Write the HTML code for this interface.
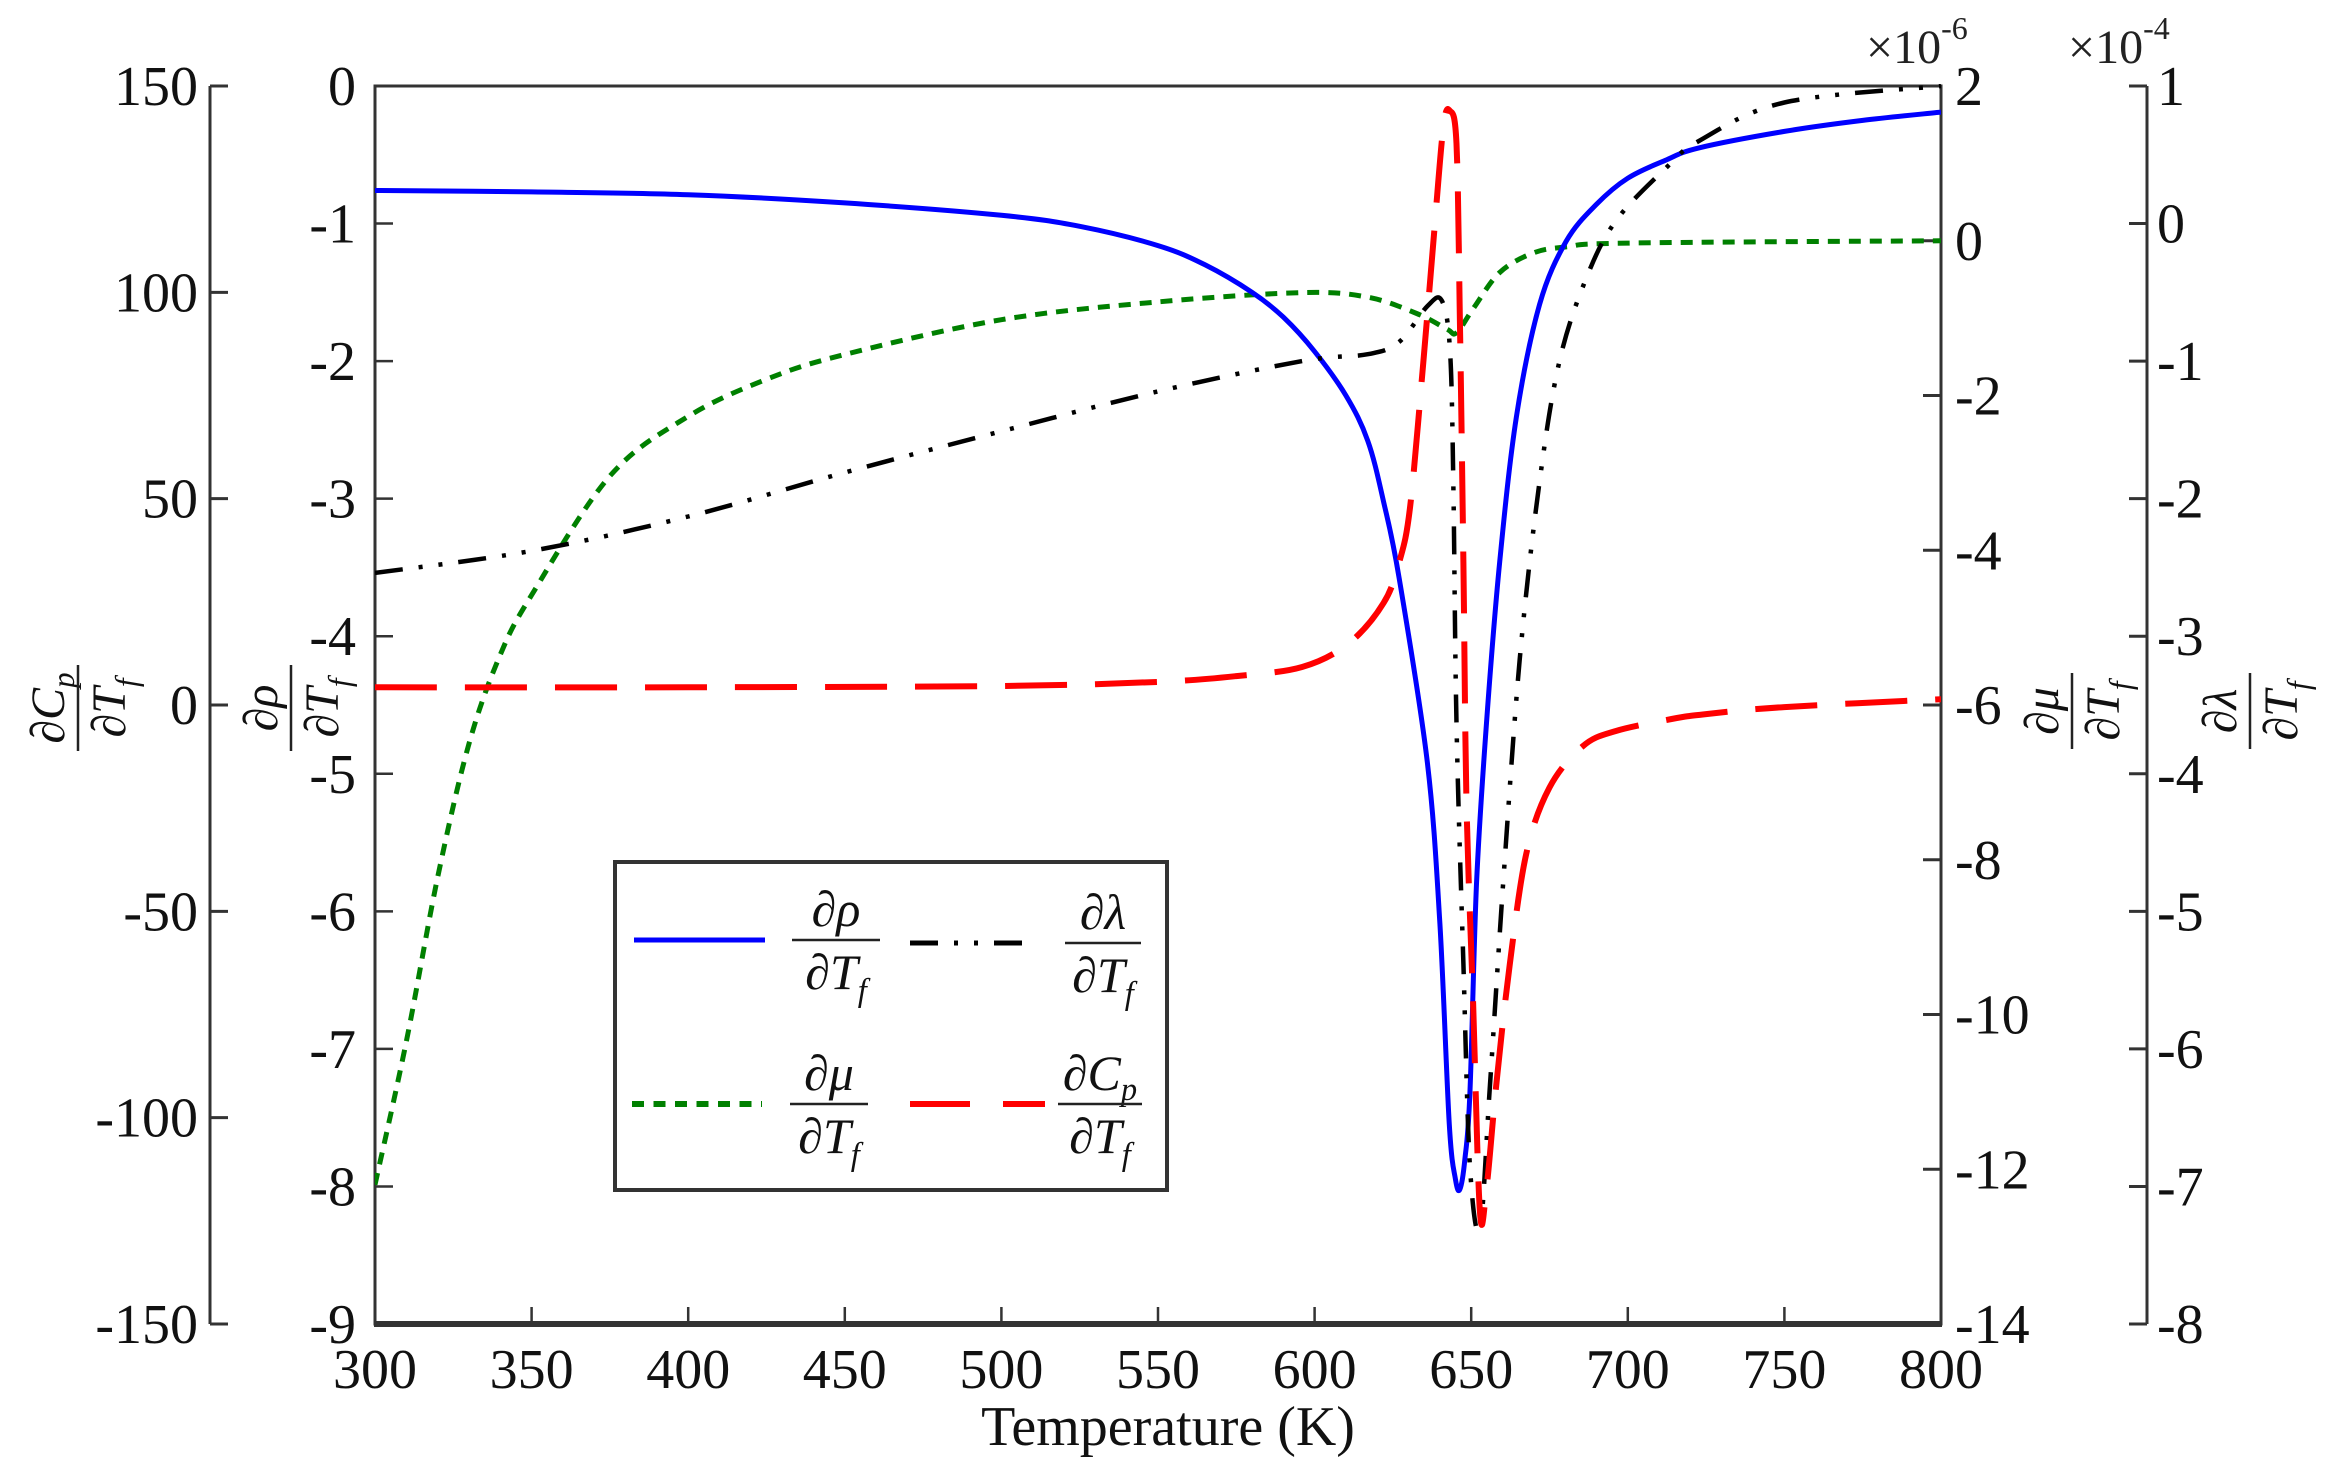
<!DOCTYPE html>
<html><head><meta charset="utf-8"><style>
html,body{margin:0;padding:0;background:#fff;}
svg{display:block;font-family:"Liberation Serif",serif;}
</style></head><body>
<svg id="chart" width="2333" height="1475" viewBox="0 0 2333 1475" xmlns="http://www.w3.org/2000/svg">
<g id="axes"></g>
<g id="series"></g>
<g id="labels"></g>
</svg>
<script>
// ---- data ----
const xTicks = [300,350,400,450,500,550,600,650,700,750,800];
const rhoTicks = [0,-1,-2,-3,-4,-5,-6,-7,-8,-9];
const cpTicks = [150,100,50,0,-50,-100,-150];
const muTicks = [2,0,-2,-4,-6,-8,-10,-12,-14];
const lamTicks = [1,0,-1,-2,-3,-4,-5,-6,-7,-8];

const rhoT = [300,350,400,450,500,525,550,565,580,590,600,610,617,622,627,636,640,643,645,646.4,648,649.6,651.7,654.9,659.1,664.4,671.8,680.3,690,700,712,722.7,750,775,800];
const rhoV = [-0.76,-0.77,-0.79,-0.85,-0.94,-1.02,-1.16,-1.30,-1.50,-1.68,-1.93,-2.25,-2.58,-3.02,-3.58,-4.92,-6.09,-7.55,-7.95,-8.02,-7.8,-7.32,-5.80,-4.63,-3.46,-2.41,-1.59,-1.13,-0.86,-0.67,-0.54,-0.45,-0.33,-0.25,-0.19];

const cpT = [300,400,500,550,575,596,611,622,627,630.5,634.7,637.9,641.1,643.2,645.3,646.4,647.5,648.5,650.6,652.8,654.9,658,662.3,667.6,675,685.6,696.2,714,725,750,800];
const cpV = [4.3,4.3,4.6,5.6,7.0,9.2,15,24.7,34.6,48,83,112,140,144,136,93,34.6,-23.7,-72,-123,-117,-92,-63,-36,-20,-10,-6.3,-3.4,-2.2,-0.5,1.4];

const muT = [300,310,320,330,340,350,375,400,425,450,500,550,596,617,632.6,642.2,645.3,650.6,659.1,669.7,680.3,700,800];
const muV = [-12.2,-10.35,-8.23,-6.5,-5.35,-4.58,-3.04,-2.27,-1.79,-1.47,-1.02,-0.79,-0.67,-0.73,-0.94,-1.14,-1.19,-0.88,-0.41,-0.16,-0.08,-0.03,0];

const lamT = [300,350,400,450,500,550,596,617,627,636,640.6,643.2,644.3,645.3,647.5,649.6,652.8,656,660.2,665.5,671.8,678.2,686.7,696.2,712,722.7,750,800];
const lamV = [-2.54,-2.38,-2.13,-1.81,-1.51,-1.22,-1.0,-0.95,-0.86,-0.60,-0.56,-0.91,-1.88,-3.63,-5.38,-6.85,-7.31,-6.26,-4.80,-3.17,-1.88,-1.0,-0.40,0.02,0.40,0.60,0.88,1.0];

// ---- geometry ----
const L=375,R=1941,T=86,B=1324;
const NS="http://www.w3.org/2000/svg";
const xS=v=>L+(v-300)/(800-300)*(R-L);
const yRho=v=>T+(0-v)/9*(B-T);
const yCp=v=>T+(150-v)/300*(B-T);
const yMu=v=>T+(2-v)/16*(B-T);
const yLam=v=>T+(1-v)/9*(B-T);

function mk(tag,attrs,parent){const e=document.createElementNS(NS,tag);for(const k in attrs)e.setAttribute(k,attrs[k]);parent.appendChild(e);return e;}
const axes=document.getElementById('axes'),series=document.getElementById('series'),labels=document.getElementById('labels');
const AX='#333';

let e;
e=mk('rect',{x:L,y:T,width:R-L,height:B-T,fill:'none',stroke:AX,'stroke-width':3},axes);


e=mk('line',{x1:L-1,x2:R+1,y1:B,y2:B,stroke:AX,'stroke-width':6},axes);



xTicks.forEach(v=>{
  const x=xS(v);
  let t=mk('line',{x1:x,x2:x,y1:B,y2:B-17,stroke:AX,'stroke-width':2.5},axes);
  
  
  let s=mk('text',{x:x,y:1388,'font-size':56,'text-anchor':'middle',fill:'#111'},labels);
  s.textContent=v;
  
  
});
e=mk('text',{x:1168,y:1445,'font-size':56,'text-anchor':'middle',fill:'#111'},labels);
e.textContent='Temperature (K)';



rhoTicks.forEach(v=>{
  const y=yRho(v);
  let t=mk('line',{x1:L,x2:L+18,y1:y,y2:y,stroke:AX,'stroke-width':2.5},axes);
  
  
  let s=mk('text',{x:356,y:y+19,'font-size':56,'text-anchor':'end',fill:'#111'},labels);
  s.textContent=v;
  
  
});

const CPX=210;
e=mk('line',{x1:CPX,x2:CPX,y1:T,y2:B,stroke:AX,'stroke-width':3},axes);


cpTicks.forEach(v=>{
  const y=yCp(v);
  let t=mk('line',{x1:CPX,x2:CPX+18,y1:y,y2:y,stroke:AX,'stroke-width':3},axes);
  
  
  let s=mk('text',{x:198,y:y+19,'font-size':56,'text-anchor':'end',fill:'#111'},labels);
  s.textContent=v;
  
  
});

muTicks.forEach(v=>{
  const y=yMu(v);
  let t=mk('line',{x1:R,x2:R-18,y1:y,y2:y,stroke:AX,'stroke-width':3},axes);
  
  
  let s=mk('text',{x:1955,y:y+19,'font-size':56,'text-anchor':'start',fill:'#111'},labels);
  s.textContent=v;
  
  
});

const LX=2147;
e=mk('line',{x1:LX,x2:LX,y1:T,y2:B,stroke:AX,'stroke-width':3},axes);


lamTicks.forEach(v=>{
  const y=yLam(v);
  let t=mk('line',{x1:LX,x2:LX-18,y1:y,y2:y,stroke:AX,'stroke-width':3},axes);
  
  
  let s=mk('text',{x:2157,y:y+19,'font-size':56,'text-anchor':'start',fill:'#111'},labels);
  s.textContent=v;
  
  
});

function expo(x,y,p,name){
  const t=mk('text',{x:x,y:y,'font-size':48,fill:'#222'},labels);
  
  
  const a=mk('tspan',{},t);a.textContent='×10';
  const b=mk('tspan',{dy:-24,'font-size':32},t);b.textContent=p;
}
expo(1866,63,'-6','mu-exponent-label');
expo(2068,63,'-4','lambda-exponent-label');

function frac(cx,cy,num,sub,rot,name,w,fs){
  const g=mk('g',{transform:`translate(${cx},${cy})`+(rot?' rotate(-90)':''),'font-style':'italic','font-size':fs,fill:'#111'},labels);
  
  
  const n=mk('text',{x:0,y:-14,'text-anchor':'middle'},g);
  const n1=mk('tspan',{},n);n1.textContent=num[0];
  if(num[1]){const n2=mk('tspan',{dy:10,'font-size':fs*0.65},n);n2.textContent=num[1];}
  mk('line',{x1:-w/2,x2:w/2,y1:0,y2:0,stroke:'#222','stroke-width':2.5},g);
  const d=mk('text',{x:0,y:fs*0.98,'text-anchor':'middle'},g);
  const d1=mk('tspan',{},d);d1.textContent='∂T';
  const d2=mk('tspan',{dy:12,'font-size':fs*0.65},d);d2.textContent='f';
}
frac(78,708,['∂C','p'],'f',true,'cp-axis-title',86,48);
frac(291,708,['∂ρ'],'f',true,'rho-axis-title',86,48);
frac(2072,711,['∂μ'],'f',true,'mu-axis-title',76,48);
frac(2250,711,['∂λ'],'f',true,'lambda-axis-title',76,48);

function pathD(xs,ys){
  const P=xs.map((x,i)=>[x,ys[i]]);
  let d=`M${P[0][0].toFixed(1)},${P[0][1].toFixed(1)}`;
  for(let i=0;i<P.length-1;i++){
    const p0=P[Math.max(0,i-1)],p1=P[i],p2=P[i+1],p3=P[Math.min(P.length-1,i+2)];
    const k=1/6;
    const c1=[p1[0]+(p2[0]-p0[0])*k,p1[1]+(p2[1]-p0[1])*k];
    const c2=[p2[0]-(p3[0]-p1[0])*k,p2[1]-(p3[1]-p1[1])*k];
    d+=` C${c1[0].toFixed(1)},${c1[1].toFixed(1)} ${c2[0].toFixed(1)},${c2[1].toFixed(1)} ${p2[0].toFixed(1)},${p2[1].toFixed(1)}`;
  }
  return d;
}
const clip=mk('clipPath',{id:'pc'},document.getElementById('chart'));
mk('rect',{x:L,y:T-2,width:R-L,height:B-T+4},clip);

function drawSeries(tArr,vArr,yf,stroke,w,dash,name){
  const p=mk('path',{d:pathD(tArr.map(xS),vArr.map(yf)),fill:'none',stroke:stroke,'stroke-width':w,'stroke-dasharray':dash,'stroke-linejoin':'round','clip-path':'url(#pc)'},series);
  
  
}
drawSeries(muT,muV,yMu,'#008000',5,'12 9','mu-series-line');
drawSeries(rhoT,rhoV,yRho,'#0000ff',5,'none','rho-series-line');
drawSeries(lamT,lamV,yLam,'#000','4.5','28 16 4 16 4 16','lambda-series-line');
drawSeries(cpT,cpV,yCp,'#ff0000',6,'62 28','cp-series-line');

const lg=mk('g',{},labels);


e=mk('rect',{x:615,y:862,width:552,height:328,fill:'#fff',stroke:'#333','stroke-width':4},lg);


function legLine(x1,x2,y,stroke,w,dash,name){
  const l=mk('line',{x1:x1,x2:x2,y1:y,y2:y,stroke:stroke,'stroke-width':w,'stroke-dasharray':dash},lg);
  
  
}
legLine(634,765,940,'#0000ff',5,'none','legend-rho-line');
legLine(910,1031,943,'#000',5,'28 16 4 16 4 16','legend-lambda-line');
legLine(632,762,1104,'#008000',6,'12 9.5','legend-mu-line');
legLine(910,1045,1104,'#ff0000',6,'60 33','legend-cp-line');
frac(836,940,['∂ρ'],'f',false,'legend-rho-label',88,50);
frac(1103,943,['∂λ'],'f',false,'legend-lambda-label',76,50);
frac(829,1104,['∂μ'],'f',false,'legend-mu-label',78,50);
frac(1100,1104,['∂C','p'],'f',false,'legend-cp-label',84,50);
</script>
</body></html>
